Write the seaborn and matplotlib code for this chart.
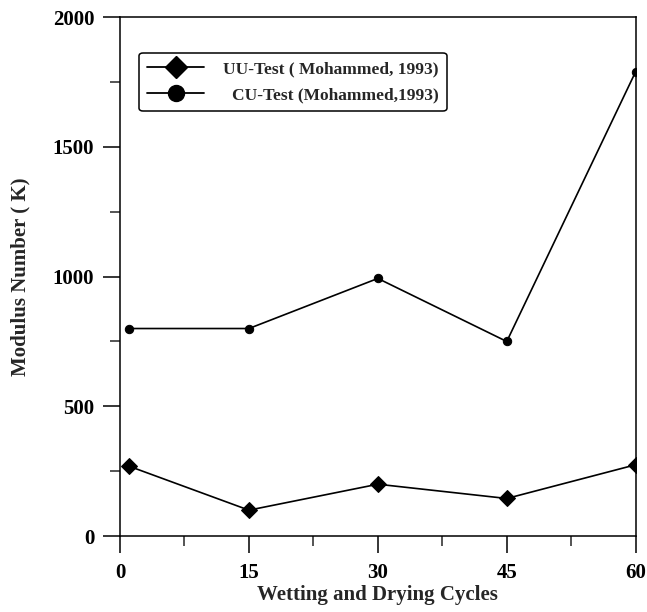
import matplotlib
matplotlib.use("Agg")
import matplotlib.pyplot as plt
from matplotlib.ticker import MultipleLocator
from matplotlib.lines import Line2D
from matplotlib.transforms import Affine2D
import seaborn as sns
import pandas as pd

cycles = [1, 15, 30, 45, 60]
uu_test = [270, 100, 200, 145, 275]
cu_test = [800, 800, 993, 750, 1790]
labels = ["UU-Test ( Mohammed, 1993)", "CU-Test (Mohammed,1993)"]

sns.set_style("ticks")
plt.rcParams["font.family"] = ["Liberation Serif", "DejaVu Serif"]
plt.rcParams["font.weight"] = "bold"

df = pd.DataFrame({
    "cycles": cycles * 2,
    "K": uu_test + cu_test,
    "test": [labels[0]] * len(cycles) + [labels[1]] * len(cycles),
})

fig = plt.figure(figsize=(6.47, 6.12), dpi=100)
ax = fig.add_axes([0.1855, 0.124, 0.797, 0.848])

sns.lineplot(data=df, x="cycles", y="K", hue="test", style="test",
             palette=["black", "black"], markers=["D", "o"], dashes=False,
             markersize=8, markeredgecolor="black", linewidth=1.2,
             legend=False, ax=ax)
for line, ms in zip(ax.lines, [8.0, 6.0]):
    line.set_markersize(ms)

ax.set_xlim(0, 60)
ax.set_ylim(0, 2000)
ax.xaxis.set_major_locator(MultipleLocator(15))
ax.xaxis.set_minor_locator(MultipleLocator(7.5))
ax.yaxis.set_major_locator(MultipleLocator(500))
ax.yaxis.set_minor_locator(MultipleLocator(250))
ax.tick_params(which="major", direction="out", length=12.5, width=1.1,
               labelsize=15, colors="black")
ax.tick_params(axis="x", which="major", pad=7)
ax.tick_params(axis="y", which="major", pad=6)
ax.tick_params(which="minor", direction="out", length=7, width=1.1)
for lab in ax.get_xticklabels() + ax.get_yticklabels():
    lab.set_fontweight("bold")
for sp in ax.spines.values():
    sp.set_linewidth(1.1)
    sp.set_color("black")
    sp.set_visible(True)

ax.set_xlabel("Wetting and Drying Cycles", fontsize=15, fontweight="bold", labelpad=1)
ax.set_ylabel("Modulus Number ( K)", fontsize=15, fontweight="bold", labelpad=16)

handles = [
    Line2D([], [], color="black", marker="D", markersize=11, linewidth=1.3),
    Line2D([], [], color="black", marker="o", markersize=11.5, linewidth=1.3),
]
leg = ax.legend(handles, labels, loc="upper left", bbox_to_anchor=(0.037, 0.931),
                borderaxespad=0, frameon=True, fancybox=True,
                handlelength=3.3, borderpad=0.45, labelspacing=0.59,
                handletextpad=1.1, prop={"weight": "bold", "size": 12.5})
leg.get_frame().set_edgecolor("black")
leg.get_frame().set_linewidth(1.1)
leg.get_frame().set_alpha(1)

# right-align the shorter legend label with the longer one
fig.canvas.draw()
texts = leg.get_texts()
renderer = fig.canvas.get_renderer()
w0 = texts[0].get_window_extent(renderer).width
w1 = texts[1].get_window_extent(renderer).width
texts[1].set_transform(texts[1].get_transform() + Affine2D().translate(w0 - w1, 0))

fig.savefig("out.png", dpi=100)
